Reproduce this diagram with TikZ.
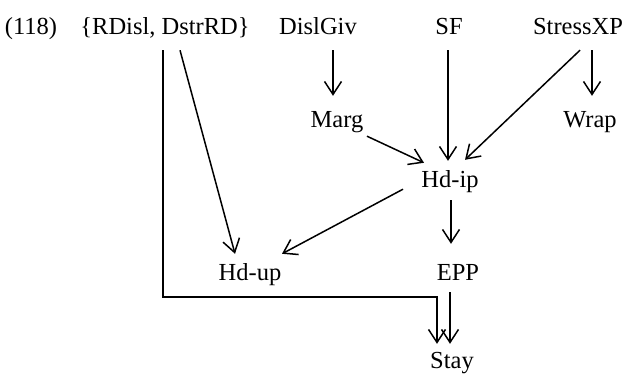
\documentclass[tikz,border=0pt]{standalone}
\usepackage{fontspec}
\setmainfont{Liberation Serif}
\usetikzlibrary{arrows.meta}
\begin{document}
\begin{tikzpicture}[x=1pt,y=-1pt,
  lbl/.style={anchor=base,inner sep=0pt,text height=16pt,text depth=5pt,font=\fontsize{24.5}{28}\selectfont},
  arr/.style={line width=1.5pt,-{Straight Barb[length=13pt,width=17pt,line width=1.5pt]}}]
\useasboundingbox (0,0) rectangle (624,374);
\node[lbl] (num) at (31,35) {(118)};
\node[lbl] (rd) at (165,35) {\{RDisl, DstrRD\}};
\node[lbl] (dislgiv) at (318,35) {DislGiv};
\node[lbl] (sf) at (449,35) {SF};
\node[lbl] (stressxp) at (578,35) {StressXP};
\node[lbl] (marg) at (337,128) {Marg};
\node[lbl] (wrap) at (590,128) {Wrap};
\node[lbl] (hdip) at (450,188) {Hd-ip};
\node[lbl] (hdup) at (250,280) {Hd-up};
\node[lbl] (epp) at (458,280) {EPP};
\node[lbl] (stay) at (452,368) {Stay};
% arrows
\draw[arr] ([xshift=15pt,yshift=-10pt]dislgiv.south) -- ([xshift=-4pt,yshift=16pt]marg.north);
\draw[arr] ([xshift=-1pt,yshift=-10pt]sf.south) -- ([xshift=-2pt,yshift=11pt]hdip.north);
\draw[arr] ([xshift=2pt,yshift=-10pt]stressxp.south) -- ([xshift=15pt,yshift=12pt]hdip.north);
\draw[arr] ([xshift=14pt,yshift=-10pt]stressxp.south) -- ([xshift=2pt,yshift=16pt]wrap.north);
\draw[arr] ([xshift=30pt,yshift=-3pt]marg.south) -- ([xshift=-26pt,yshift=9pt]hdip.north);
\draw[arr] ([xshift=-47pt,yshift=4pt]hdip.south) -- ([xshift=32pt,yshift=10pt]hdup.north);
\draw[arr] ([xshift=15pt,yshift=-10pt]rd.south) -- ([xshift=-15pt,yshift=10pt]hdup.north);
\draw[arr] ([xshift=1pt,yshift=-7pt]hdip.south) -- ([xshift=-7pt,yshift=20pt]epp.north);
\draw[arr] ([xshift=-8pt,yshift=-7pt]epp.south) -- ([xshift=-2pt,yshift=8pt]stay.north);
\draw[arr] ([xshift=-2pt,yshift=-10pt]rd.south) |- ([yshift=-12pt]hdup.south) -| ([xshift=-15pt,yshift=8pt]stay.north);
\end{tikzpicture}
\end{document}
